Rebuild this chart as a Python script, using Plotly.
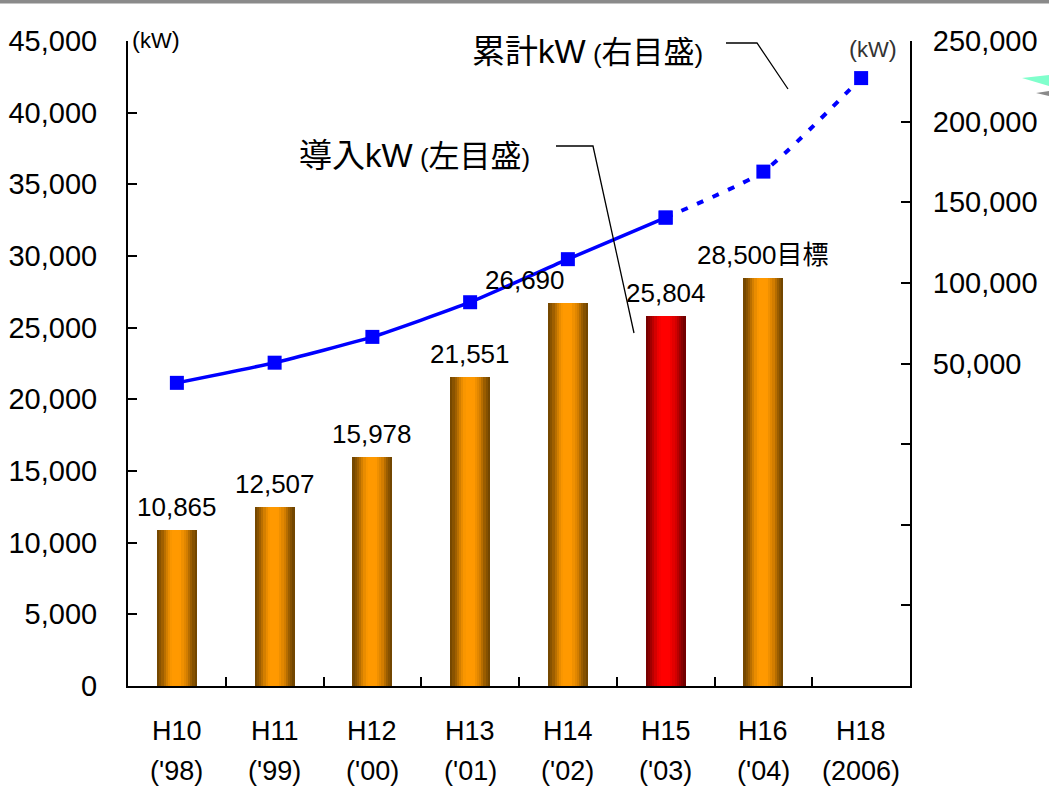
import plotly.graph_objects as go

# --- data -------------------------------------------------------------
categories = ["H10", "H11", "H12", "H13", "H14", "H15", "H16", "H18"]
year_labels = ["('98)", "('99)", "('00)", "('01)", "('02)", "('03)", "('04)", "(2006)"]
annual_kw = [10865, 12507, 15978, 21551, 26690, 25804, 28500, None]   # left axis
cumulative_kw = [38000, 50500, 66500, 88000, 114700, 140500, 169000, 227000]  # right axis
highlight = "H15"
target_cat = "H16"

# --- layout geometry (pixels) -----------------------------------------
W, H = 1049, 789
L, R, T, B = 128, 910, 41, 686
FONT = "Liberation Sans, Arial, Noto Sans CJK JP, sans-serif"


def px(x):
    return (x - L) / (R - L)


def py(y):
    return (B - y) / (B - T)


def lerp_color(stops, t):
    for (t0, c0), (t1, c1) in zip(stops, stops[1:]):
        if t0 <= t <= t1:
            f = (t - t0) / (t1 - t0) if t1 > t0 else 0
            c = [round(a + (b - a) * f) for a, b in zip(c0, c1)]
            return f"rgb({c[0]},{c[1]},{c[2]})"
    c = stops[-1][1]
    return f"rgb({c[0]},{c[1]},{c[2]})"


orange_stops = [(0.0, (108, 66, 0)), (0.12, (150, 90, 0)), (0.28, (225, 135, 0)),
                (0.38, (255, 153, 0)), (0.58, (255, 153, 0)), (0.74, (215, 128, 0)),
                (0.88, (145, 88, 0)), (1.0, (105, 64, 0))]
red_stops = [(0.0, (110, 0, 0)), (0.14, (160, 0, 0)), (0.3, (235, 0, 0)),
             (0.4, (255, 0, 0)), (0.58, (255, 0, 0)), (0.74, (215, 0, 0)),
             (0.88, (150, 0, 0)), (1.0, (105, 0, 0))]

fig = go.Figure()

# cylinder-like bars built from narrow vertical strips
bar_w = 0.41
n_strips = 18
strip = bar_w / n_strips
for i in range(n_strips):
    t = (i + 0.5) / n_strips
    cols = [lerp_color(red_stops if c == highlight else orange_stops, t) for c in categories]
    fig.add_bar(
        x=categories, y=annual_kw,
        width=strip * (1.0 if i == n_strips - 1 else 1.15),
        offset=-bar_w / 2 + i * strip,
        marker=dict(color=cols, line=dict(width=0)),
        showlegend=False, hoverinfo="skip",
    )

# cumulative line: actual (solid) and planned (dashed)
split = categories.index(highlight)
fig.add_scatter(
    x=categories[:split + 1], y=cumulative_kw[:split + 1], yaxis="y2",
    mode="lines+markers", line=dict(color="#0000ff", width=3.5, shape="spline", smoothing=0.5),
    marker=dict(symbol="square", size=14, color="#0000ff"), showlegend=False,
)
fig.add_scatter(
    x=categories[split:], y=cumulative_kw[split:], yaxis="y2",
    mode="lines+markers",
    line=dict(color="#0000ff", width=4, dash="7px,10px", shape="spline", smoothing=0.5),
    marker=dict(symbol="square", size=14, color="#0000ff"), showlegend=False,
)

annotations = []
# value labels above bars
for c, v in zip(categories, annual_kw):
    if v is None:
        continue
    txt = f"{v:,}" + ("目標" if c == target_cat else "")
    annotations.append(dict(
        x=c, y=v, xref="x", yref="y", text=txt, showarrow=False,
        yanchor="bottom", yshift=6, xshift=-43 if c == "H14" else 0,
        font=dict(size=26, color="black", family=FONT),
    ))

# two-line category labels
for c, yl in zip(categories, year_labels):
    annotations.append(dict(x=c, y=py(731), xref="x", yref="paper", text=c,
                            showarrow=False, yanchor="middle",
                            font=dict(size=27, color="black", family=FONT)))
    annotations.append(dict(x=c, y=py(771), xref="x", yref="paper", text=yl,
                            showarrow=False, yanchor="middle",
                            font=dict(size=27, color="black", family=FONT)))

UNIT = ("<span style='font-size:24px'>(</span><span style='font-size:22px'>kW</span>"
        "<span style='font-size:24px'>)</span>")

# unit labels
annotations.append(dict(x=px(130), y=py(24), xref="paper", yref="paper", text=UNIT,
                        showarrow=False, font=dict(size=22, color="black", family=FONT)))
annotations.append(dict(x=px(899), y=py(33), xref="paper", yref="paper", text=UNIT,
                        showarrow=False, font=dict(size=22, color="#333", family=FONT)))


def caption(main, note):
    return (f"{main}<span style='font-size:26px'> (</span>"
            f"<span style='font-size:31px'>{note}</span>"
            f"<span style='font-size:26px'>)</span>")


# series captions
annotations.append(dict(
    x=px(297), y=py(155), xref="paper", yref="paper", xanchor="left", yanchor="middle",
    text=caption("導入kW", "左目盛"), showarrow=False,
    font=dict(size=33, color="black", family=FONT)))
annotations.append(dict(
    x=px(470), y=py(52), xref="paper", yref="paper", xanchor="left", yanchor="middle",
    text=caption("累計kW", "右目盛"), showarrow=False,
    font=dict(size=33, color="black", family=FONT)))


def poly(points):
    return "M " + " L ".join(f"{px(a)},{py(b)}" for a, b in points)


shapes = [
    # leader lines for the captions
    dict(type="path", xref="paper", yref="paper", path=poly([(556, 146), (593, 146), (634, 333)]),
         line=dict(color="black", width=1.3)),
    dict(type="path", xref="paper", yref="paper", path=poly([(726, 43), (757, 43), (788, 89)]),
         line=dict(color="black", width=1.3)),
    # top rule of the page
    dict(type="rect", xref="paper", yref="paper", x0=px(0), x1=px(W), y0=py(3.5), y1=py(0),
         fillcolor="#8a8a8a", line=dict(width=0)),
    # decorative wedges at the right edge
    dict(type="path", xref="paper", yref="paper", path=poly([(1022, 78), (1049, 75), (1049, 86)]) + " Z",
         fillcolor="#80ffcc", line=dict(width=0)),
    dict(type="path", xref="paper", yref="paper", path=poly([(1036, 93), (1049, 91), (1049, 96)]) + " Z",
         fillcolor="#8a8a8a", line=dict(width=0)),
]

y2_ticks = list(range(-150000, 250001, 50000))
y2_text = [f"{v:,}" if v > 0 else "" for v in y2_ticks]

fig.update_layout(
    width=W, height=H,
    margin=dict(l=L, r=W - R, t=T, b=H - B, pad=0, autoexpand=False),
    paper_bgcolor="white", plot_bgcolor="white",
    barmode="overlay", bargap=0,
    font=dict(family=FONT, color="black"),
    xaxis=dict(
        type="category", categoryorder="array", categoryarray=categories,
        range=[-0.5, len(categories) - 0.5], automargin=False,
        showline=True, linecolor="black", linewidth=2,
        ticks="inside", tickson="boundaries", ticklen=9, tickcolor="black", tickwidth=1.5,
        showticklabels=False, showgrid=False, zeroline=False, fixedrange=True,
    ),
    yaxis=dict(
        range=[0, 45000], dtick=5000, tickformat=",d", automargin=False,
        showline=True, linecolor="black", linewidth=2,
        ticks="inside", ticklen=9, tickcolor="black", tickwidth=1.5,
        ticklabelstandoff=23,
        tickfont=dict(size=29, color="black", family=FONT),
        showgrid=False, zeroline=False,
    ),
    yaxis2=dict(
        overlaying="y", side="right", range=[-150000, 250000], automargin=False,
        tickvals=y2_ticks, ticktext=y2_text,
        showline=True, linecolor="black", linewidth=2,
        ticks="inside", ticklen=9, tickcolor="black", tickwidth=1.5,
        ticklabelstandoff=15,
        tickfont=dict(size=29, color="black", family=FONT),
        showgrid=False, zeroline=False,
    ),
    annotations=annotations,
    shapes=shapes,
)

fig.write_html("out.html")
